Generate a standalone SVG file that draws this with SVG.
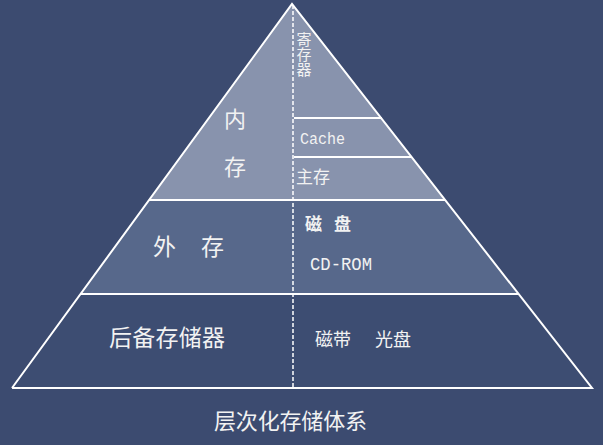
<svg xmlns="http://www.w3.org/2000/svg" width="603" height="445" viewBox="0 0 603 445">
<style>
.cjk{font-family:"Noto Sans CJK SC","Noto Sans",sans-serif;fill:#f2f2f2}
.mono{font-family:"Liberation Mono","DejaVu Sans Mono",monospace;fill:#f2f2f2}
.edge{stroke:#ffffff;stroke-width:2;fill:none}
.dash{stroke:#ffffff;stroke-width:1.5;stroke-dasharray:4 2;fill:none}
</style>
<rect width="603" height="445" fill="#3c4b70"/>
<g id="inner-memory">
<polygon points="292,4 149,200 445,200" fill="#8893ad"/>
<text class="cjk" x="304" y="32" font-size="15" style="writing-mode:vertical-rl">寄存器</text>
<text class="cjk" x="224" y="127" font-size="22">内</text>
<text class="cjk" x="224" y="175" font-size="22">存</text>
<text class="mono" x="300" y="144" font-size="16" textLength="45" lengthAdjust="spacingAndGlyphs">Cache</text>
<text class="cjk" x="296" y="183" font-size="17">主存</text>
</g>
<g id="external-memory">
<polygon points="149,200 445,200 518,294 81,294" fill="#57688b"/>
<text class="cjk" x="153" y="255" font-size="23">外</text>
<text class="cjk" x="201" y="255" font-size="23">存</text>
<text class="cjk" x="305" y="230" font-size="17" font-weight="bold">磁</text>
<text class="cjk" x="334" y="230" font-size="17" font-weight="bold">盘</text>
<text class="mono" x="310" y="270" font-size="18" textLength="62" lengthAdjust="spacingAndGlyphs">CD-ROM</text>
</g>
<g id="backup-storage">
<polygon points="81,294 518,294 592,388 12,388" fill="#3d4d72"/>
<text class="cjk" x="109" y="346" font-size="23" textLength="116">后备存储器</text>
<text class="cjk" x="315" y="346" font-size="18">磁带</text>
<text class="cjk" x="375" y="346" font-size="18">光盘</text>
</g>
<g id="connectors">
<polyline class="edge" points="12,388 292,4 592,388 12,388"/>
<line class="edge" x1="149" y1="200" x2="445" y2="200"/>
<line class="edge" x1="81" y1="294" x2="518" y2="294"/>
<line class="edge" x1="294" y1="118" x2="382" y2="118"/>
<line class="edge" x1="294" y1="157" x2="412" y2="157"/>
<line class="dash" x1="293" y1="5" x2="293" y2="387"/>
</g>
<g id="caption">
<text class="cjk" x="214" y="429" font-size="22" textLength="153">层次化存储体系</text>
</g>
</svg>
